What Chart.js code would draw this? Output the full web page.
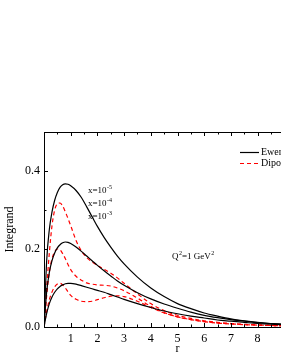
<!DOCTYPE html>
<html>
<head>
<meta charset="utf-8">
<script src="https://cdn.jsdelivr.net/npm/chart.js@4"></script>
<style>
html, body { margin: 0; padding: 0; background: #fff; overflow: hidden; }
#wrap { width: 281px; height: 363px; overflow: hidden; }
</style>
</head>
<body>
<div id="wrap"><canvas id="myChart" width="330" height="363"></canvas></div>
<script>
// r grid shared by all curves
const rValues = [0, 0.1, 0.2, 0.3, 0.4, 0.5, 0.6, 0.7, 0.8, 0.9, 1.0, 1.2, 1.4, 1.6, 1.8, 2.0, 2.25, 2.5, 2.75, 3.0,
  3.5, 4.0, 4.5, 5.0, 5.5, 6.0, 6.5, 7.0, 7.5, 8.0, 8.5, 9.0, 9.5, 10];

// solid black curves
const ewerzX5 = [0, 0.17, 0.25, 0.295, 0.325, 0.345, 0.358, 0.365, 0.367, 0.366, 0.362, 0.35, 0.332, 0.308, 0.283, 0.258, 0.23, 0.205, 0.182, 0.162,
  0.128, 0.1, 0.078, 0.06, 0.047, 0.036, 0.028, 0.021, 0.016, 0.012, 0.009, 0.007, 0.005, 0.004];
const ewerzX4 = [0, 0.09, 0.14, 0.17, 0.19, 0.203, 0.211, 0.216, 0.218, 0.217, 0.214, 0.205, 0.194, 0.182, 0.17, 0.158, 0.144, 0.131, 0.118, 0.107,
  0.088, 0.072, 0.059, 0.048, 0.038, 0.03, 0.024, 0.019, 0.015, 0.011, 0.009, 0.007, 0.005, 0.004];
const ewerzX3 = [0, 0.035, 0.06, 0.077, 0.089, 0.098, 0.104, 0.108, 0.111, 0.112, 0.112, 0.11, 0.106, 0.102, 0.098, 0.094, 0.089, 0.083, 0.077, 0.071,
  0.06, 0.05, 0.041, 0.034, 0.028, 0.023, 0.018, 0.015, 0.012, 0.009, 0.007, 0.006, 0.005, 0.004];

// dashed red curves
const dipoleX5 = [0, 0.1, 0.19, 0.26, 0.3, 0.316, 0.318, 0.31, 0.295, 0.278, 0.26, 0.222, 0.195, 0.178, 0.167, 0.158, 0.148, 0.138, 0.126, 0.112,
  0.085, 0.06, 0.042, 0.03, 0.022, 0.016, 0.012, 0.009, 0.007, 0.005, 0.004, 0.003, 0.003, 0.002];
const dipoleX4 = [0, 0.08, 0.14, 0.175, 0.193, 0.2, 0.198, 0.188, 0.175, 0.16, 0.147, 0.13, 0.12, 0.113, 0.11, 0.108, 0.107, 0.105, 0.1, 0.093,
  0.074, 0.053, 0.037, 0.026, 0.019, 0.014, 0.01, 0.008, 0.006, 0.005, 0.004, 0.003, 0.002, 0.002];
const dipoleX3 = [0, 0.04, 0.07, 0.09, 0.103, 0.11, 0.112, 0.108, 0.1, 0.09, 0.081, 0.071, 0.066, 0.065, 0.066, 0.07, 0.075, 0.079, 0.08, 0.078,
  0.066, 0.05, 0.036, 0.026, 0.019, 0.014, 0.01, 0.008, 0.006, 0.005, 0.004, 0.003, 0.002, 0.002];

const legendLabels = ["Ewerz", "Dipole"];
const xLabels = ["x=10", "-5", "x=10", "-4", "x=10", "-3"];

const SERIF = "'Liberation Serif', 'Times New Roman', serif";

function pts(vals) {
  return rValues.map((r, i) => ({x: r, y: vals[i]}));
}

function solid(vals) {
  return {data: pts(vals), borderColor: "#000", borderWidth: 1.2, pointRadius: 0,
    cubicInterpolationMode: "monotone", fill: false};
}
function dashed(vals) {
  return {data: pts(vals), borderColor: "#ff0000", borderWidth: 1.2, borderDash: [4, 3], pointRadius: 0,
    cubicInterpolationMode: "monotone", fill: false};
}

function supText(ctx, x, y, base, sup, size) {
  ctx.font = size + "px " + SERIF;
  ctx.fillText(base, x, y);
  const w = ctx.measureText(base).width;
  ctx.font = Math.round(size * 0.62) + "px " + SERIF;
  ctx.fillText(sup, x + w + 0.5, y - size * 0.42);
  return x + w + 0.5 + ctx.measureText(sup).width;
}

const decor = {
  id: "decor",
  afterDraw(chart) {
    const ctx = chart.ctx;
    const a = chart.chartArea;
    const xs = chart.scales.x, ys = chart.scales.y;
    ctx.save();
    ctx.strokeStyle = "#000";
    ctx.lineWidth = 1;
    ctx.strokeRect(Math.round(a.left) + 0.5, Math.round(a.top) + 0.5, Math.round(a.right - a.left), Math.round(a.bottom - a.top));

    // inward ticks
    ctx.beginPath();
    for (let v = 0; v <= 10; v += 0.5) {
      const px = Math.round(xs.getPixelForValue(v)) + 0.5;
      const len = Number.isInteger(v) ? 4 : 2.5;
      ctx.moveTo(px, a.bottom); ctx.lineTo(px, a.bottom - len);
      ctx.moveTo(px, a.top); ctx.lineTo(px, a.top + len);
    }
    for (let k = 0; k <= 5; k++) {
      const py = Math.round(ys.getPixelForValue(k / 10)) + 0.5;
      const len = k % 2 === 0 ? 4 : 2.5;
      ctx.moveTo(a.left, py); ctx.lineTo(a.left + len, py);
      ctx.moveTo(a.right, py); ctx.lineTo(a.right - len, py);
    }
    ctx.stroke();

    // legend
    ctx.lineWidth = 1.2;
    ctx.beginPath();
    ctx.moveTo(240, 152.5); ctx.lineTo(259, 152.5);
    ctx.stroke();
    ctx.strokeStyle = "#ff0000";
    ctx.setLineDash([4, 3]);
    ctx.beginPath();
    ctx.moveTo(240, 163.5); ctx.lineTo(259, 163.5);
    ctx.stroke();
    ctx.setLineDash([]);
    ctx.fillStyle = "#000";
    ctx.textBaseline = "middle";
    ctx.textAlign = "left";
    ctx.font = "10px " + SERIF;
    ctx.fillText(legendLabels[0], 261, 152);
    ctx.fillText(legendLabels[1], 261, 163);

    // annotations
    ctx.textBaseline = "alphabetic";
    supText(ctx, 88, 193, xLabels[0], xLabels[1], 9);
    supText(ctx, 88, 206, xLabels[2], xLabels[3], 9);
    supText(ctx, 88, 219, xLabels[4], xLabels[5], 9);
    let x = supText(ctx, 172, 259, "Q", "2", 9);
    x = supText(ctx, x, 259, "=1 GeV", "2", 9);

    // axis titles
    ctx.font = "12px " + SERIF;
    ctx.textAlign = "center";
    ctx.textBaseline = "middle";
    ctx.fillText("r", (a.left + a.right) / 2, 349);
    ctx.translate(10, (a.top + a.bottom) / 2);
    ctx.rotate(-Math.PI / 2);
    ctx.fillText("Integrand", 0, 0);
    ctx.restore();
  }
};

new Chart(document.getElementById("myChart").getContext("2d"), {
  type: "line",
  data: {
    datasets: [solid(ewerzX5), solid(ewerzX4), solid(ewerzX3), dashed(dipoleX5), dashed(dipoleX4), dashed(dipoleX3)]
  },
  options: {
    responsive: false,
    animation: false,
    layout: {padding: {top: 132, right: 19, left: 0, bottom: 0}},
    plugins: {legend: {display: false}, tooltip: {enabled: false}},
    scales: {
      x: {
        type: "linear", min: 0, max: 10,
        grid: {display: false, drawTicks: false},
        border: {display: false},
        ticks: {stepSize: 1, padding: 5, color: "#000", font: {family: SERIF, size: 12},
          callback: v => (v === 0 || v === 10) ? "" : String(v)},
        afterFit: s => { s.height = 36; }
      },
      y: {
        min: 0, max: 0.5,
        grid: {display: false, drawTicks: false},
        border: {display: false},
        ticks: {stepSize: 0.1, padding: 4, color: "#000", font: {family: SERIF, size: 12},
          callback: v => (Math.round(v * 10) % 2 === 0 && v < 0.45) ? v.toFixed(1) : ""},
        afterFit: s => { s.width = 44; }
      }
    }
  },
  plugins: [decor]
});
</script>
</body>
</html>
